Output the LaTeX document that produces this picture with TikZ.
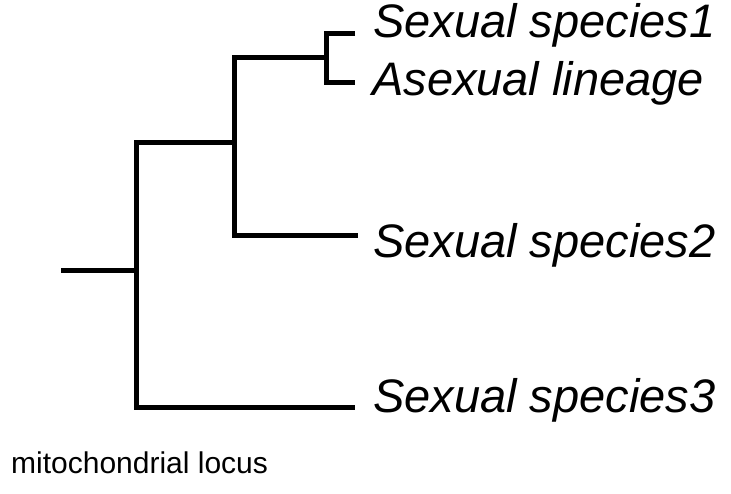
\documentclass[tikz,border=0pt]{standalone}
\usepackage{fontspec}
\setmainfont{Liberation Sans}
\begin{document}
\begin{tikzpicture}[x=1pt,y=-1pt,
  branch/.style={line width=5pt,line cap=butt,line join=miter},
  taxon/.style={anchor=base west,inner sep=0pt,
    font=\itshape\fontsize{47}{52}\selectfont},
  caption/.style={anchor=base west,inner sep=0pt,
    font=\fontsize{30}{34}\selectfont}]
\useasboundingbox (0,0) rectangle (731,493);

% internal nodes and branch tips
\coordinate (root) at (61,270);
\coordinate (n1)   at (136,270);
\coordinate (n2)   at (234,142);
\coordinate (n3)   at (326,57);
\coordinate (t1)   at (355,33);
\coordinate (t2)   at (355,82);
\coordinate (t3)   at (355,233);
\coordinate (t4)   at (355,407);

% branches
\draw[branch] (root) -- (n1);
\draw[branch] (n2) -| (n1) |- (t4);
\draw[branch] (n3) -| (n2) |- ([yshift=-2pt]t3) -- (t3);
\draw[branch] (t1) -| (n3) |- (t2);

% tip labels
\node[taxon] (l1) at (373,37)  {Sexual species1};
\node[taxon] (l2) at (372,95)  {Asexual lineage};
\node[taxon] (l3) at (373,257) {Sexual species2};
\node[taxon] (l4) at (373,412) {Sexual species3};

\node[caption] (cap) at (11,473) {mitochondrial locus};
\end{tikzpicture}
\end{document}
